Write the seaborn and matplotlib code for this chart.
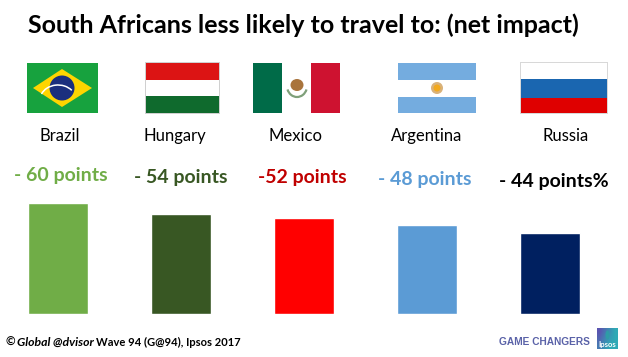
import matplotlib
matplotlib.use("Agg")
import matplotlib.pyplot as plt
import matplotlib.patches as mpatches
import seaborn as sns
import numpy as np
import pandas as pd

countries = ["Brazil", "Hungary", "Mexico", "Argentina", "Russia"]
net_impact = [60, 54, 52, 48, 44]
value_labels = ["- 60 points", "- 54 points", "-52 points", "- 48 points", "- 44 points%"]
bar_colors = ["#70AD47", "#385723", "#FF0000", "#5B9BD5", "#002060"]
label_colors = ["#70AD47", "#385723", "#C00000", "#5B9BD5", "#000000"]

W, H = 628, 357

sns.set_theme(style="white")
plt.rcParams['font.family'] = ['Lato', 'DejaVu Sans']

fig = plt.figure(figsize=(W / 100, H / 100), dpi=100)

# bars: axes sits on the picture so that one category = 123 px, baseline at y=314
ax = fig.add_axes([0, (H - 314) / H, 1, 124 / H])
df = pd.DataFrame({"country": countries, "impact": net_impact})
sns.barplot(data=df, x="country", y="impact", hue="country", palette=bar_colors,
            width=60 / 123, legend=False, saturation=1, ax=ax)
ax.set_xlim((0 - 57.7) / 123, (W - 57.7) / 123)
ax.set_ylim(0, 124 / 1.85)
ax.axis("off")

# overlay in pixel coordinates for flags and text
ov = fig.add_axes([0, 0, 1, 1], zorder=5)
ov.patch.set_alpha(0)


def rect(x0, y0, x1, y1, color, **kw):
    ov.add_patch(mpatches.Rectangle((x0, y0), x1 - x0, y1 - y0, facecolor=color, edgecolor="none", **kw))


# Brazil
rect(27, 63, 98, 113, "#17A23E")
ov.add_patch(mpatches.Polygon([[33, 88], [62, 69], [92, 88], [62, 107]], facecolor="#FFD500", edgecolor="none"))
ov.add_patch(mpatches.Circle((62, 88), 12.5, facecolor="#1B2F7E", edgecolor="none"))
ov.add_patch(mpatches.Arc((58, 100), 36, 30, theta1=200, theta2=325, color="white", lw=1.1))

# Hungary
rect(145, 62, 220, 114, "#D0D0D0")
rect(146, 63, 219, 80, "#DC1414")
rect(146, 80, 219, 96, "#FFFFFF")
rect(146, 96, 219, 113, "#0F6A2D")

# Mexico
rect(253, 63, 282, 113, "#006B48")
rect(311, 63, 340, 113, "#CE1230")
ov.add_patch(mpatches.Ellipse((297, 85), 13, 12, facecolor="#A9743C", edgecolor="none"))
ov.add_patch(mpatches.Arc((297, 86), 20, 22, theta1=20, theta2=160, color="#7FA07A", lw=1.6))

# Argentina
rect(398, 63, 476, 80, "#74ACDF")
rect(398, 97, 476, 113, "#74ACDF")
ov.add_patch(mpatches.Circle((437, 88), 6, facecolor="#D9B27A", edgecolor="none"))
ov.add_patch(mpatches.Circle((437, 88), 3.5, facecolor="#F2A91E", edgecolor="none"))

# Russia
rect(520, 62, 608, 114, "#D8D8D8")
rect(521, 63, 607, 79, "#FFFFFF")
rect(521, 79, 607, 98, "#1A66B0")
rect(521, 98, 607, 113, "#DF0000")

# title and labels
ov.text(303, 25, "South Africans less likely to travel to: (net impact)", ha="center", va="center",
        fontsize=18, fontweight="bold", color="black")

name_x = [60, 175, 296, 427, 566]
value_x = [61, 181, 302, 425, 554]
value_y = [176, 177, 177, 179, 182]
for i in range(len(countries)):
    ov.text(name_x[i], 141, countries[i], ha="center", va="baseline", fontsize=12, color="black")
    ov.text(value_x[i], value_y[i], value_labels[i], ha="center", va="center",
            fontsize=14, fontweight="bold", color=label_colors[i])

# footer
ov.text(5, 342, "©", ha="left", va="center", fontsize=8.5, fontweight="bold", color="black")
ov.text(17, 342, "Global @dvisor", ha="left", va="center", fontsize=8.8, fontweight="bold",
        fontstyle="italic", color="black")
ov.text(96.5, 342, "Wave 94 (G@94), Ipsos 2017", ha="left", va="center", fontsize=8, fontweight="bold", color="black")
ov.text(499, 342, "GAME CHANGERS", ha="left", va="center", fontsize=7.3, fontweight="bold",
        family=["Liberation Sans"], color="#5A62A8")

# ipsos logo, blue to teal
grad = np.array([[0.0, 0.35, 0.7, 1.0], [0.2, 0.55, 0.85, 1.0], [0.45, 0.75, 1.0, 1.0]])
ov.imshow(grad, extent=(597, 618, 349, 328), aspect="auto", zorder=2, interpolation="bilinear",
          cmap=matplotlib.colors.LinearSegmentedColormap.from_list("ipsos", ["#5A55B0", "#2FA9B5"]))
ov.add_patch(mpatches.Ellipse((607.5, 335), 4, 9, facecolor="#2E9CA6", edgecolor="none", zorder=3))
ov.text(607.5, 344, "Ipsos", ha="center", va="center", fontsize=5.5, fontweight="bold", color="white", zorder=4)

ov.set_xlim(0, W)
ov.set_ylim(H, 0)
ov.axis("off")

plt.savefig("out.png", dpi=100)
